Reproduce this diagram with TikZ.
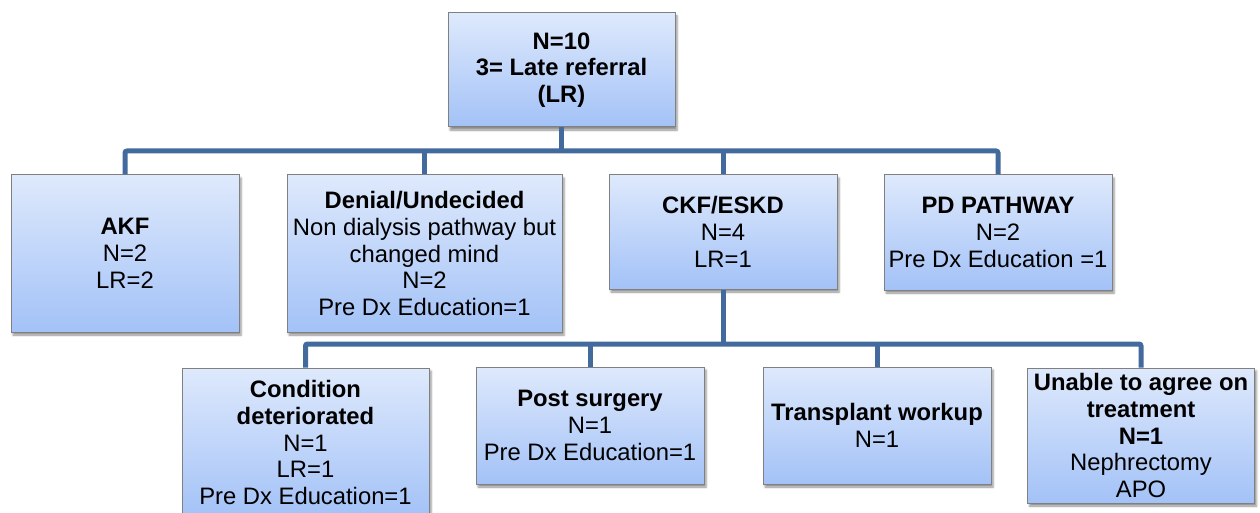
\documentclass[tikz,border=0pt]{standalone}
\usepackage{fontspec}
\setmainfont{Liberation Sans}
\definecolor{boxtop}{RGB}{222, 233, 252}
\definecolor{boxbot}{RGB}{163, 194, 247}
\definecolor{boxline}{RGB}{128, 128, 128}
\definecolor{linkblue}{RGB}{66, 106, 156}
\usetikzlibrary{shadows.blur, positioning}
\begin{document}
\begin{tikzpicture}[x=1pt,y=-1pt,
			blk/.style={rectangle,align=center,inner sep=0pt,draw=boxline,line width=1pt,
				top color=boxtop,bottom color=boxbot,
				font=\fontsize{23.8}{26.8}\selectfont,
				blur shadow={shadow xshift=2pt,shadow yshift=-3pt,shadow opacity=45,shadow blur steps=4}},
			link/.style={draw=linkblue,line width=5pt,rounded corners=2pt}]
			\useasboundingbox (0,0) rectangle (1260,513);
			% top level
			\node[blk,minimum width=227,minimum height=114] (top) at (561.5,70)
				{\textbf{N=10}\\\textbf{3= Late referral}\\\textbf{(LR)}};
			% first level
			\node[blk,minimum width=228,minimum height=157] (akf) at (125,253.5)
				{\textbf{AKF}\\N=2\\LR=2};
			\node[blk,minimum width=275,minimum height=157] (denial) at (424.5,253.5)
				{\textbf{Denial/Undecided}\\Non dialysis pathway but\\changed mind\\N=2\\Pre Dx Education=1};
			\node[blk,minimum width=228,minimum height=114] (ckf) at (723,232)
				{\textbf{CKF/ESKD}\\N=4\\LR=1};
			\node[blk,minimum width=228,minimum height=115] (pd) at (998,232.5)
				{\textbf{PD PATHWAY}\\N=2\\Pre Dx Education =1};
			% second level
			\node[blk,minimum width=247,minimum height=149] (cond) at (305.5,442.5)
				{\textbf{Condition}\\\textbf{deteriorated}\\N=1\\LR=1\\Pre Dx Education=1};
			\node[blk,minimum width=228,minimum height=117] (post) at (590,425.5)
				{\textbf{Post surgery}\\N=1\\Pre Dx Education=1};
			\node[blk,minimum width=228,minimum height=117] (trans) at (877,425.5)
				{\textbf{Transplant workup}\\N=1};
			\node[blk,minimum width=227,minimum height=135] (unable) at (1141,435.5)
				{\textbf{Unable to agree on}\\\textbf{treatment}\\\textbf{N=1}\\Nephrectomy\\APO};
			% connectors
			\coordinate (bar1) at (561.5,151);
			\coordinate (bar2) at (723,344);
			\draw[link] (top.south) -- (bar1);
			\draw[link] (akf.north) |- (bar1) -| (pd.north);
			\draw[link] (denial.north) -- (denial.north |- bar1);
			\draw[link] (ckf.north) -- (ckf.north |- bar1);
			\draw[link] (ckf.south) -- (bar2);
			\draw[link] (cond.north) |- (bar2) -| (unable.north);
			\draw[link] (post.north) -- (post.north |- bar2);
			\draw[link] (trans.north) -- (trans.north |- bar2);
		\end{tikzpicture}
\end{document}
